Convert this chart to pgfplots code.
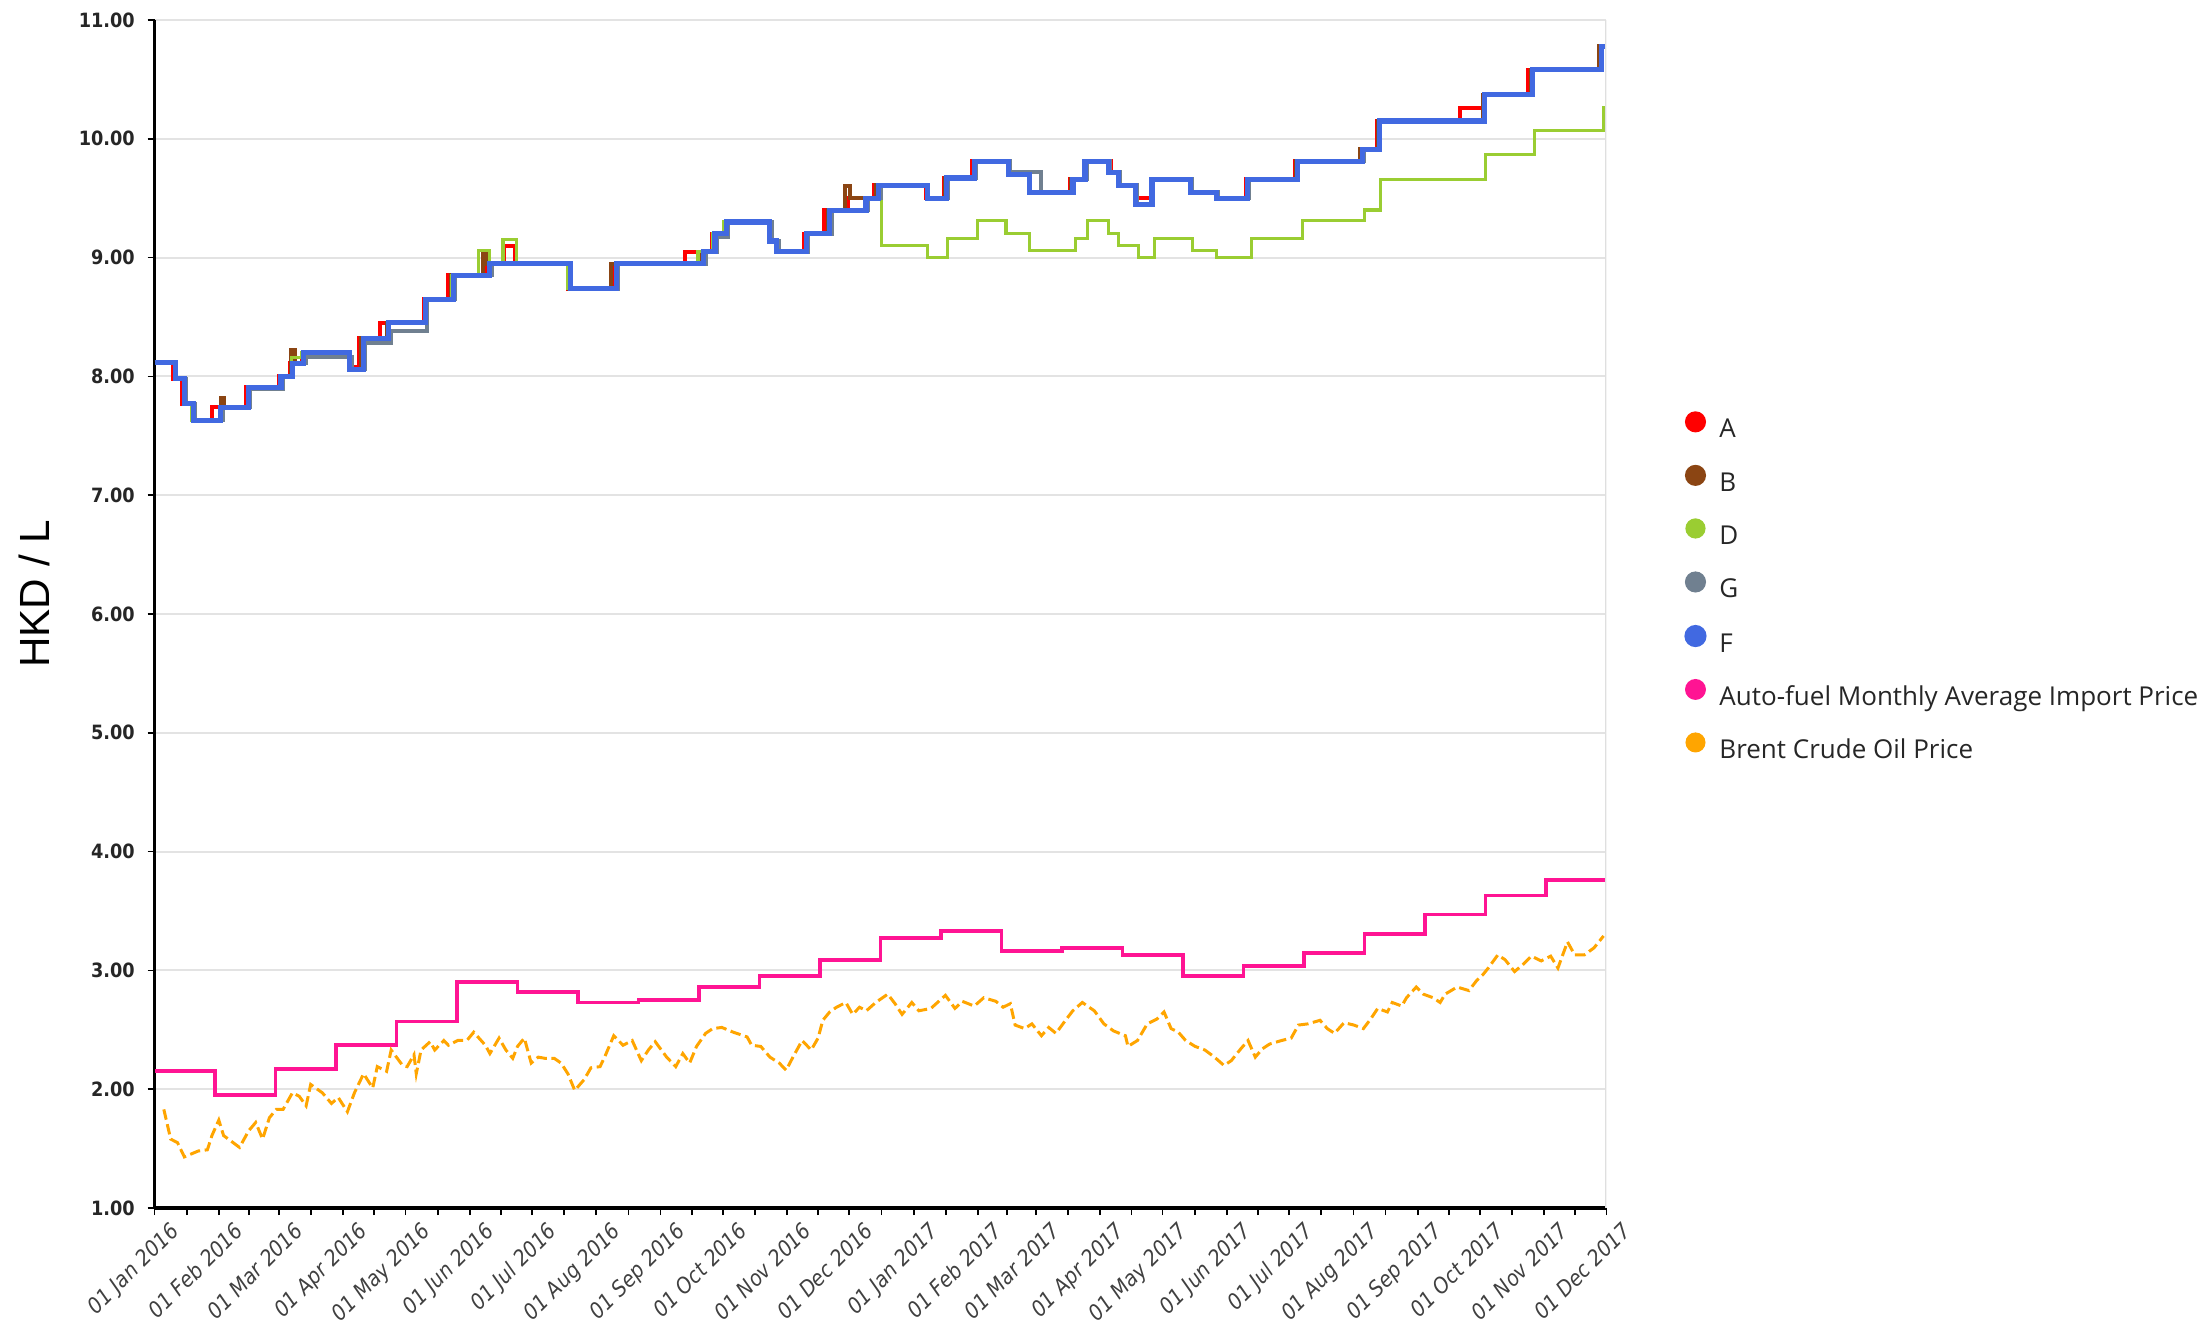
\documentclass[border=0pt]{standalone}
\usepackage{fontspec}
\usepackage{pgfplots}
\pgfplotsset{compat=1.18}
\setmainfont{Open Sans}
\newfontfamily\legfont{Open Sans}
\newfontfamily\xfont{DejaVu Sans Condensed Oblique}
\newfontfamily\yfont{DejaVu Sans Condensed Bold}
\newfontfamily\labfont{Liberation Sans}
\definecolor{cA}{HTML}{FF0000}
\definecolor{cB}{HTML}{8B4513}
\definecolor{cD}{HTML}{9ACD32}
\definecolor{cG}{HTML}{708090}
\definecolor{cF}{HTML}{4169E1}
\definecolor{cP}{HTML}{FF1493}
\definecolor{cO}{HTML}{FFA500}
\begin{document}
\begin{tikzpicture}
\useasboundingbox (0,0) rectangle (22.07,13.24);
\begin{axis}[
  at={(1.545cm,1.16cm)}, anchor=south west,
  scale only axis, width=14.52cm, height=11.88cm,
  xmin=0, xmax=700, ymin=1, ymax=11,
  axis x line*=bottom, axis y line*=left,
  axis line style={-},
  x axis line style={line width=0.9pt, black},
  y axis line style={line width=0.6pt, black},
  ymajorgrids, grid style={gray!22, line width=0.6pt},
  tick align=outside,
  major tick length=0.7mm, minor tick length=0.7mm,
  tick style={black, line width=0.5pt},
  ytick={1,2,...,11},
  /pgf/number format/assume math mode=true,
  yticklabel={\pgfmathprintnumber[fixed,fixed zerofill,precision=2]{\tick}},
  yticklabel style={font=\yfont\fontsize{5.6}{6}\selectfont, text=black!85, inner sep=0pt, xshift=-1.2mm},
  xtick={0,31,60,91,121,152,182,213,244,274,305,335,366,397,425,456,486,517,547,578,609,639,670,700},
  xticklabels={01 Jan 2016,01 Feb 2016,01 Mar 2016,01 Apr 2016,01 May 2016,01 Jun 2016,01 Jul 2016,01 Aug 2016,01 Sep 2016,01 Oct 2016,01 Nov 2016,01 Dec 2016,01 Jan 2017,01 Feb 2017,01 Mar 2017,01 Apr 2017,01 May 2017,01 Jun 2017,01 Jul 2017,01 Aug 2017,01 Sep 2017,01 Oct 2017,01 Nov 2017,01 Dec 2017},
  minor xtick={15.5,45.5,75.5,106,136.5,167,197.5,228.5,259,289.5,320,350.5,381.5,411,440.5,471,501.5,532,562.5,593.5,624,654.5,685},
  xticklabel style={xshift=1.4mm, yshift=-0.5mm, rotate=45, anchor=north east, inner sep=0pt, font=\xfont\fontsize{6.2}{7}\selectfont, text=black!75},
  ylabel={HKD / L},
  ylabel style={font=\labfont\fontsize{12}{14}\selectfont, at={(axis description cs:-0.083,0.517)}, anchor=center},
  legend image code/.code={\fill[#1, solid] (0.85mm,0.9mm) circle (0.85mm);},
  legend cell align=left,
  legend style={at={(axis description cs:1.0537,0.6706)}, anchor=north west, draw=none, fill=none,
    font=\legfont\fontsize{7.4}{8}\selectfont, text=black!85,
    row sep=2.1mm, column sep=1.29mm, inner sep=0pt, outer sep=0pt,
    nodes={inner sep=0pt, outer sep=0pt, text height=2mm, text depth=0.6mm}},
]
% A
\addplot[const plot, color=cA, line width=1.15pt] coordinates {
(0,8.12)(9,7.98)(13.5,7.77)(18,7.63)(27.7,7.74)(44.3,7.91)(59.8,8.00)(65.5,8.11)(71,8.20)(94,8.08)(98.6,8.32)(108.5,8.45)(130,8.65)(141.7,8.85)(160.5,8.95)(168.3,9.10)(173.8,8.95)(199.5,8.74)(221.5,8.95)(255.8,9.05)(269,9.20)(275,9.30)(297.5,9.14)(301,9.05)(313,9.20)(323,9.40)(334.4,9.50)(347,9.61)(372,9.50)(380.5,9.67)(394,9.81)(412,9.70)(421.5,9.55)(441.5,9.66)(448,9.81)(461,9.72)(465.5,9.61)(472.8,9.50)(480.5,9.66)(499.5,9.55)(512.5,9.50)(526,9.66)(550,9.81)(581.5,9.91)(589.5,10.15)(629.6,10.26)(641.1,10.37)(662,10.58)(696.5,10.78)(700,10.78)};
\addlegendentry{A}
% B
\addplot[const plot, color=cB, line width=1.15pt] coordinates {
(0,8.12)(10.5,7.98)(14.5,7.77)(18.9,7.63)(32,7.82)(33.5,7.74)(45,7.91)(60.5,8.00)(66,8.22)(67.5,8.11)(72,8.20)(94,8.06)(99.7,8.32)(112,8.45)(130.5,8.65)(143,8.85)(158.5,9.03)(160.5,8.95)(200,8.74)(220.3,8.95)(264,9.05)(270,9.20)(275.5,9.30)(297,9.14)(300.5,9.05)(314,9.20)(324.5,9.40)(332.8,9.60)(335.5,9.50)(348,9.61)(372.3,9.50)(381,9.67)(395,9.81)(411.7,9.70)(422,9.55)(442,9.66)(448.3,9.81)(460,9.72)(464.7,9.61)(472.8,9.45)(480.5,9.66)(499.3,9.55)(512,9.50)(526.5,9.66)(550.5,9.81)(581,9.91)(590,10.15)(640.5,10.37)(663.5,10.58)(696.5,10.78)(700,10.78)};
\addlegendentry{B}
% D
\addplot[const plot, color=cD, line width=0.9pt] coordinates {
(0,8.12)(10,7.98)(14.4,7.77)(18,7.63)(32,7.74)(45.4,7.91)(61,8.00)(66,8.16)(71,8.20)(94,8.06)(100.8,8.32)(113,8.45)(130.7,8.65)(143,8.85)(156,9.06)(161.5,8.95)(168,9.15)(174.5,8.95)(199,8.74)(222.6,8.95)(262,9.05)(269,9.20)(274.5,9.30)(296.7,9.14)(300,9.05)(314.4,9.20)(325.5,9.40)(343,9.50)(348.5,9.61)(350.6,9.10)(372.5,9.00)(382.2,9.16)(396.7,9.31)(410.5,9.20)(422,9.06)(444,9.16)(449.7,9.31)(460,9.20)(464.7,9.10)(474.4,9.00)(482,9.16)(500.5,9.06)(512,9.00)(528.8,9.16)(553.5,9.31)(583.5,9.40)(591.1,9.66)(641.8,9.87)(665.4,10.07)(698.8,10.26)(700,10.26)};
\addlegendentry{D}
% G
\addplot[const plot, color=cG, line width=1.15pt] coordinates {
(0,8.12)(10.5,7.98)(15,7.77)(19.5,7.63)(33,7.74)(46,7.89)(62,8.00)(67,8.11)(73,8.16)(95,8.06)(101.5,8.28)(114,8.38)(131.5,8.65)(145,8.85)(162.5,8.95)(201,8.74)(223.5,8.95)(266,9.05)(271,9.17)(276.5,9.30)(297.5,9.14)(301,9.05)(315,9.20)(326.5,9.40)(344,9.50)(350,9.61)(373,9.50)(382.5,9.67)(396,9.81)(412.5,9.72)(427.4,9.55)(443.5,9.66)(449.5,9.81)(460.5,9.72)(465.5,9.61)(473.5,9.45)(481.5,9.66)(500,9.55)(512.5,9.50)(527.5,9.66)(551.5,9.81)(583,9.91)(591,10.15)(641.5,10.37)(664.5,10.58)(698,10.78)(700,10.78)};
\addlegendentry{G}
% F
\addplot[const plot, color=cF, line width=1.45pt] coordinates {
(0,8.12)(10,7.98)(14.4,7.77)(18.9,7.63)(32,7.74)(45.4,7.91)(61,8.00)(66.5,8.11)(72,8.20)(94,8.06)(100.8,8.32)(113,8.45)(130.7,8.65)(144,8.85)(161.7,8.95)(200.4,8.74)(222.6,8.95)(264.6,9.05)(270.2,9.20)(275.7,9.30)(296.7,9.14)(300,9.05)(314.4,9.20)(325.5,9.40)(343,9.50)(349,9.61)(372.5,9.50)(381.7,9.67)(395.5,9.81)(411.7,9.70)(422,9.55)(442.8,9.66)(448.6,9.81)(460,9.72)(464.7,9.61)(472.8,9.45)(480.9,9.66)(499.3,9.55)(512,9.50)(527,9.66)(551,9.81)(582.3,9.91)(590.4,10.15)(641.1,10.37)(664.2,10.58)(697.6,10.78)(700,10.78)};
\addlegendentry{F}
% Auto-fuel
\addplot[const plot, color=cP, line width=1.1pt] coordinates {
(0,2.15)(29.17,1.95)(58.33,2.17)(87.5,2.37)(116.67,2.57)(145.83,2.90)(175,2.82)(204.17,2.73)(233.33,2.75)(262.5,2.86)(291.67,2.95)(320.83,3.09)(350,3.27)(379.17,3.33)(408.33,3.16)(437.5,3.19)(466.67,3.13)(495.83,2.95)(525,3.04)(554.17,3.15)(583.33,3.31)(612.5,3.47)(641.67,3.63)(670.83,3.76)(700,3.76)};
\addlegendentry{Auto-fuel Monthly Average Import Price}
% Brent
\addplot[sharp plot, color=cO, line width=0.85pt, dash pattern=on 3pt off 1.3pt] coordinates {
(4.5,1.83)(7.8,1.58)(11.1,1.55)(14.4,1.43)(21.1,1.48)(25.5,1.49)(27.7,1.61)(31,1.74)(33.3,1.61)(41,1.51)(45.4,1.65)(48.8,1.72)(52.1,1.58)(55.4,1.76)(58.7,1.83)(62,1.83)(66.5,1.97)(69.8,1.94)(73.1,1.86)(75.3,2.04)(80.9,1.97)(85.3,1.88)(88.6,1.93)(93,1.81)(96.4,1.97)(100.8,2.13)(105.2,2.01)(107.4,2.19)(111.9,2.15)(114.1,2.33)(119.6,2.20)(121.8,2.19)(125.1,2.29)(126.2,2.13)(128.5,2.33)(132.9,2.40)(135.1,2.33)(139.5,2.41)(141.7,2.37)(146.2,2.41)(150.6,2.41)(153.9,2.48)(159.5,2.37)(161.7,2.30)(166.1,2.43)(169.4,2.33)(172.7,2.26)(175,2.36)(178.3,2.43)(181.6,2.22)(185,2.27)(188.2,2.26)(192.7,2.26)(196,2.22)(199.3,2.13)(202.6,1.99)(207.1,2.08)(210.4,2.18)(214.8,2.19)(217,2.27)(221.4,2.45)(225.9,2.37)(230.3,2.41)(234.7,2.24)(238.1,2.33)(241.4,2.40)(246.9,2.27)(251.3,2.19)(254.7,2.30)(258,2.22)(261.3,2.36)(265.7,2.47)(269.1,2.51)(273.5,2.52)(279,2.48)(285.7,2.44)(287.9,2.37)(292.3,2.36)(296.7,2.27)(301.2,2.22)(304.5,2.16)(307.8,2.27)(312.2,2.41)(316.6,2.33)(319.9,2.43)(322.2,2.58)(325.5,2.65)(328.8,2.69)(333.3,2.73)(336.6,2.63)(339.9,2.69)(343.2,2.66)(347.7,2.73)(353.5,2.80)(357,2.72)(360.4,2.63)(365.1,2.73)(368.5,2.66)(374.3,2.68)(381.3,2.79)(385.9,2.68)(389.4,2.74)(395.2,2.70)(399.8,2.77)(405.6,2.74)(409.1,2.69)(412.6,2.72)(414.9,2.54)(419.5,2.51)(423,2.55)(427.6,2.45)(431.1,2.52)(434.6,2.47)(439.2,2.58)(442.7,2.66)(447.3,2.73)(453.1,2.66)(457.7,2.55)(462.4,2.49)(468.1,2.45)(469.3,2.36)(473.9,2.41)(478.6,2.55)(483.2,2.59)(486.7,2.65)(490.1,2.51)(493.6,2.48)(497.1,2.41)(501.7,2.36)(506.4,2.33)(511,2.27)(515.6,2.20)(519.1,2.24)(523.7,2.34)(527.2,2.41)(530.7,2.27)(534.1,2.34)(537.6,2.38)(543.4,2.41)(548,2.43)(551.5,2.54)(556.1,2.55)(561.9,2.58)(565.4,2.51)(568.9,2.47)(573.5,2.56)(578.2,2.54)(582.8,2.51)(586.3,2.59)(589.7,2.68)(594.4,2.65)(596.7,2.73)(601.3,2.70)(603.6,2.77)(608.3,2.86)(611.7,2.80)(616.4,2.77)(619.8,2.73)(622.2,2.80)(628,2.86)(633.7,2.83)(637.2,2.91)(640.7,2.97)(643,3.02)(647.6,3.13)(651.1,3.09)(655.7,2.99)(660.4,3.06)(663.8,3.12)(668.5,3.08)(673.1,3.12)(676.6,3.02)(681.2,3.24)(684.7,3.13)(689.3,3.13)(694,3.19)(698.6,3.29)};
\addlegendentry{Brent Crude Oil Price}
\draw[gray!25, line width=0.6pt] (rel axis cs:1,0) -- (rel axis cs:1,1);
\end{axis}
\end{tikzpicture}
\end{document}
